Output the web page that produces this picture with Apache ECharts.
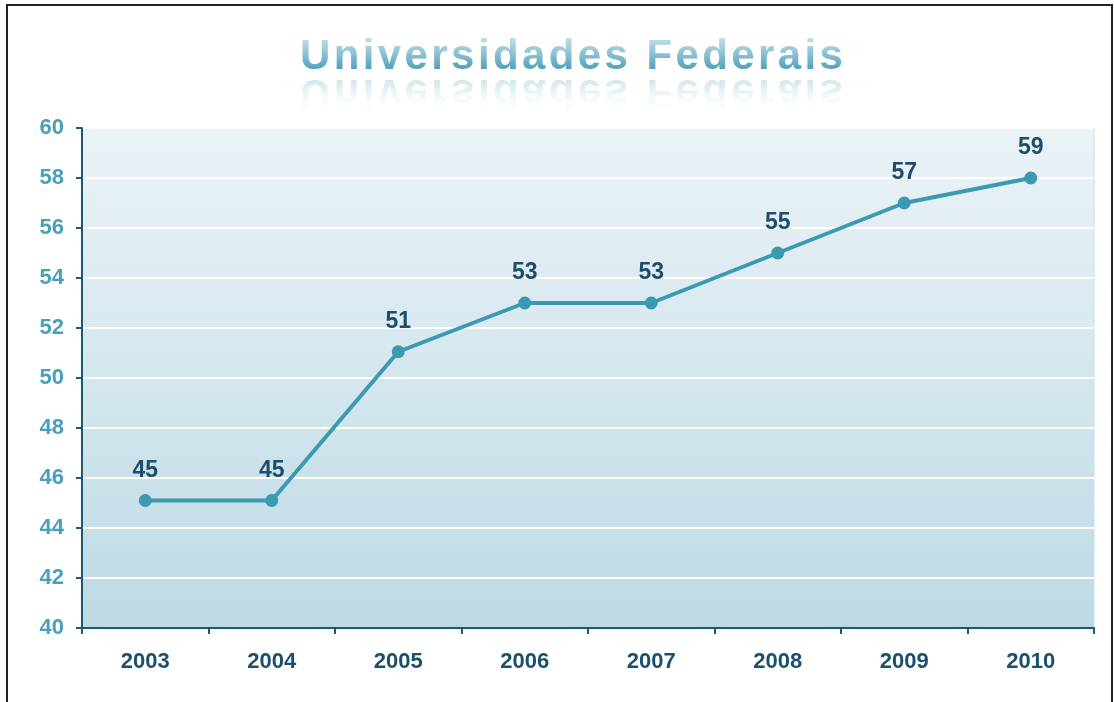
<!DOCTYPE html>
<html>
<head>
<meta charset="utf-8">
<script src="https://cdn.jsdelivr.net/npm/echarts@6/dist/echarts.min.js"></script>
<style>
  html, body { margin: 0; padding: 0; background: #fff; }
  #chart { width: 1114px; height: 702px; }
</style>
</head>
<body>
<div id="chart"></div>
<script>
  // Universidades Federais por ano
  const years = ['2003', '2004', '2005', '2006', '2007', '2008', '2009', '2010'];
  const pointValues = [45.1, 45.1, 51.05, 53, 53, 55, 57, 58];
  const labelValues = [45, 45, 51, 53, 53, 55, 57, 59];
  const yTicks = { min: 40, max: 60, interval: 2 };
  const titleText = 'Universidades Federais';

  const chart = echarts.init(document.getElementById('chart'));
  const fontFamily = '"Liberation Sans", Arial, sans-serif';

  // title drawn letter by letter to get the wide spacing
  const titleFont = 'bold 42px ' + fontFamily;
  const measure = document.createElement('canvas').getContext('2d');
  measure.font = titleFont;
  const spacing = 3.4;
  const titleGraphics = [];
  let cx = 300;
  titleText.split('').forEach((ch) => {
    const w = measure.measureText(ch).width;
    if (ch !== ' ') {
      titleGraphics.push({
        type: 'text',
        x: cx,
        y: 57,
        z: 10,
        silent: true,
        style: { text: ch, font: titleFont, verticalAlign: 'middle', fill: '#3d97b3' },
      });
      // reflection
      titleGraphics.push({
        type: 'text',
        x: cx,
        y: 92,
        z: 10,
        scaleY: -1,
        silent: true,
        style: { text: ch, font: titleFont, verticalAlign: 'middle', fill: '#7fbdd0' },
      });
    }
    cx += w + spacing;
  });
  // white fades over the title give the light-to-dark look
  titleGraphics.push({
    type: 'rect',
    z: 11,
    silent: true,
    shape: { x: 280, y: 36, width: 590, height: 38 },
    style: {
      fill: new echarts.graphic.LinearGradient(0, 0, 0, 1, [
        { offset: 0, color: 'rgba(255,255,255,0.72)' },
        { offset: 0.45, color: 'rgba(255,255,255,0.42)' },
        { offset: 1, color: 'rgba(255,255,255,0)' },
      ]),
    },
  });
  titleGraphics.push({
    type: 'rect',
    z: 11,
    silent: true,
    shape: { x: 280, y: 74, width: 590, height: 40 },
    style: {
      fill: new echarts.graphic.LinearGradient(0, 0, 0, 1, [
        { offset: 0, color: 'rgba(255,255,255,0.55)' },
        { offset: 0.6, color: 'rgba(255,255,255,0.92)' },
        { offset: 1, color: 'rgba(255,255,255,1)' },
      ]),
    },
  });

  const option = {
    animation: false,
    graphic: [
      {
        type: 'rect',
        shape: { x: 7, y: 5, width: 1105, height: 740 },
        silent: true,
        style: { fill: 'none', stroke: '#222', lineWidth: 2 },
      },
      ...titleGraphics,
    ],
    grid: {
      left: 82,
      right: 20,
      top: 128,
      bottom: 74,
      show: true,
      borderColor: '#c9dfe8',
      borderWidth: 1,
      backgroundColor: new echarts.graphic.LinearGradient(0, 0, 0, 1, [
        { offset: 0, color: '#ebf3f7' },
        { offset: 1, color: '#bddae4' },
      ]),
    },
    xAxis: {
      type: 'category',
      data: years,
      boundaryGap: true,
      axisLine: { lineStyle: { color: '#1e5877', width: 2 } },
      axisTick: { show: true, length: 6, lineStyle: { color: '#1e5877', width: 2 } },
      axisLabel: {
        color: '#1b4f6e',
        fontSize: 22,
        fontWeight: 'bold',
        fontFamily: fontFamily,
        margin: 23,
      },
      splitLine: { show: false },
    },
    yAxis: {
      type: 'value',
      min: yTicks.min,
      max: yTicks.max,
      interval: yTicks.interval,
      axisLine: { show: true, lineStyle: { color: '#1e5877', width: 2 } },
      axisTick: { show: true, length: 6, lineStyle: { color: '#1e5877', width: 2 } },
      axisLabel: {
        color: '#4aa0bb',
        fontSize: 22,
        fontWeight: 'bold',
        fontFamily: fontFamily,
        margin: 18,
      },
      splitLine: { show: true, lineStyle: { color: '#ffffff', width: 2 } },
    },
    series: [
      {
        type: 'line',
        data: pointValues,
        symbol: 'circle',
        symbolSize: 13,
        lineStyle: { color: '#3b9ab2', width: 4 },
        itemStyle: { color: '#3b9ab2' },
        label: {
          show: true,
          position: 'top',
          distance: 12,
          color: '#1e4d6b',
          fontSize: 23,
          fontWeight: 'bold',
          fontFamily: fontFamily,
          formatter: (p) => String(labelValues[p.dataIndex]),
        },
      },
    ],
  };
  chart.setOption(option);
</script>
</body>
</html>
